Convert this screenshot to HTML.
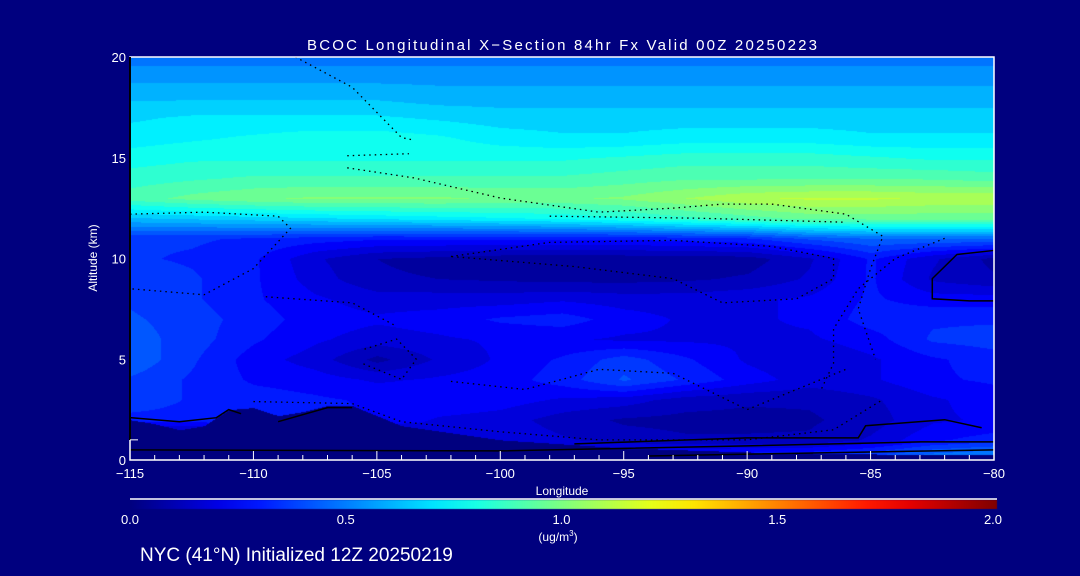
<!DOCTYPE html>
<html><head><meta charset="utf-8">
<style>
html,body{margin:0;padding:0;background:#00007f;}
#wrap{position:relative;width:1080px;height:576px;background:#00007f;overflow:hidden;font-family:"Liberation Sans",sans-serif;color:#fff;}
canvas{position:absolute;left:0;top:0;}
svg{position:absolute;left:0;top:0;}
</style></head>
<body>
<div id="wrap">
<canvas id="cv" width="1080" height="576"></canvas>
<svg id="sv" width="1080" height="576"></svg>
</div>
<script>
// ---- data ----
const lons = [-115,-112.5,-110,-107.5,-105,-102.5,-100,-97.5,-95,-92.5,-90,-87.5,-85,-82.5,-80];
const alts = [0,1,2,3,4,5,6,7,8,9,10,11,12,13,14,15,16,17,18,19,20];
const field = [
 [0,0,0,0,0,0,.30,.35,.35,.35,.38,.40,.45,.55,.60],
 [0,0,0,0,0,.20,.20,.16,.12,.10,.10,.10,.16,.26,.30],
 [.30,.30,.32,.30,.26,.20,.18,.12,.08,.07,.07,.08,.12,.20,.22],
 [.38,.32,.30,.28,.26,.26,.24,.20,.18,.12,.10,.10,.14,.20,.24],
 [.38,.32,.26,.24,.20,.22,.24,.30,.40,.32,.24,.18,.20,.26,.28],
 [.44,.34,.24,.18,.07,.16,.22,.28,.36,.28,.20,.16,.20,.26,.30],
 [.42,.36,.28,.22,.18,.20,.22,.22,.20,.20,.20,.20,.24,.34,.36],
 [.40,.36,.30,.24,.22,.24,.28,.30,.24,.20,.20,.22,.30,.32,.32],
 [.38,.34,.28,.22,.18,.18,.18,.20,.18,.18,.20,.22,.28,.24,.24],
 [.38,.34,.28,.18,.10,.09,.08,.07,.07,.08,.10,.16,.28,.14,.10],
 [.34,.32,.28,.16,.09,.07,.05,.05,.05,.05,.06,.14,.28,.16,.07],
 [.34,.34,.32,.30,.28,.28,.28,.28,.28,.30,.32,.40,.45,.45,.45],
 [.62,.64,.66,.68,.70,.72,.74,.76,.80,.85,.90,.95,.95,.95,.95],
 [.90,.95,.98,1.0,1.0,1.0,.98,.98,1.0,1.05,1.1,1.12,1.12,1.1,1.1],
 [.84,.86,.88,.88,.88,.88,.88,.88,.90,.92,.92,.92,.92,.92,.90],
 [.78,.80,.80,.80,.80,.80,.80,.80,.82,.84,.84,.84,.82,.80,.80],
 [.72,.74,.76,.78,.78,.76,.72,.70,.70,.72,.72,.72,.70,.70,.70],
 [.68,.70,.70,.70,.70,.68,.66,.66,.66,.66,.66,.66,.66,.66,.66],
 [.62,.62,.62,.62,.62,.60,.60,.60,.60,.60,.60,.60,.60,.60,.60],
 [.55,.55,.55,.55,.55,.55,.55,.55,.55,.55,.55,.55,.55,.55,.55],
 [.48,.48,.48,.48,.48,.48,.48,.48,.48,.48,.48,.48,.48,.48,.48]
];
const terrainLon = [-115,-114,-113,-112,-111,-110,-109,-108,-107,-106,-105,-104,-100,-95,-90,-85,-80];
const terrainAlt = [2.0,1.8,1.5,1.7,2.5,2.6,2.2,2.4,2.7,2.7,2.2,1.7,1.0,0.6,0.4,0.3,0.25];
const xTicks = [-115,-110,-105,-100,-95,-90,-85,-80];
const yTicks = [0,5,10,15,20];
const cbTicks = [0,0.5,1.0,1.5,2.0];
const contourDotted = [
 [[-115,12.2],[-112,12.3],[-109,12.1],[-108.5,11.5],[-110,9.5],[-112,8.2],[-115,8.5]],
 [[-108.3,20],[-106,18.5],[-104,16],[-103.6,15.9]],
 [[-106.2,15.1],[-103.7,15.2]],
 [[-106.2,14.5],[-103.5,14],[-100,13],[-96,12.3],[-93,12.5],[-91,12.7],[-89,12.7],[-86,12.2],[-84.5,11.1],[-85,9.5],[-85.5,7.5],[-84.8,5]],
 [[-98,12.1],[-92,12.0],[-86,11.8]],
 [[-102,10.1],[-98,10.8],[-93,10.9],[-89,10.6],[-86.5,10],[-86.5,9],[-88,8],[-91,7.8],[-93,9],[-97,9.6],[-102,10.1]],
 [[-82,11],[-84,10],[-85.5,8.5],[-86.5,6.5],[-86.5,4.8],[-87,3.5]],
 [[-109.5,8.1],[-106,7.8],[-104.3,6.7]],
 [[-105.5,5.5],[-104.2,6],[-103.4,5],[-104,4.0],[-105.6,4.8]],
 [[-110,2.9],[-106,2.8],[-104,1.9],[-100,1.4],[-96,1.0],[-90,1.0],[-86.5,1.5],[-84.5,3]],
 [[-102,3.9],[-99,3.5],[-96,4.5],[-93,4.3],[-90,2.5],[-88,3.5],[-86,4.5]]
];
const contourSolid = [
 [[-115,2.1],[-113,1.9],[-111.5,2.1],[-111,2.5],[-110.5,2.3]],
 [[-109,1.9],[-107,2.6],[-106,2.6]],
 [[-97,0.8],[-90,1.1],[-85.5,1.1],[-85.2,1.7],[-82,2.0],[-80.5,1.6]],
 [[-115,0.5],[-100,0.45],[-90,0.7],[-83,0.9],[-80,0.9]],
 [[-80,10.4],[-81.5,10.2],[-82.5,9],[-82.5,8],[-81,7.9],[-80,7.9]],
 [[-94,0.2],[-85,0.4],[-80,0.5]]
];
// ---- axes ----
const X0=130,X1=994,Y0=460,Y1=57;
const sx = l => X0 + (l+115)/35*(X1-X0);
const sy = a => Y0 - a/20*(Y0-Y1);
const invx = px => -115 + (px-X0)/(X1-X0)*35;
const invy = py => (Y0-py)/(Y0-Y1)*20;
function jet(v){
  const t=Math.max(0,Math.min(1,v/2));
  const c=x=>Math.max(0,Math.min(1,1.5-Math.abs(x)));
  return [c(4*t-3)*255,c(4*t-2)*255,c(4*t-1)*255];
}
function interp(lon,alt){
  let i=0; while(i<lons.length-2 && lon>lons[i+1]) i++;
  let j=0; while(j<alts.length-2 && alt>alts[j+1]) j++;
  const fx=Math.max(0,Math.min(1,(lon-lons[i])/(lons[i+1]-lons[i])));
  const fy=Math.max(0,Math.min(1,(alt-alts[j])/(alts[j+1]-alts[j])));
  const a=field[j][i],b=field[j][i+1],c=field[j+1][i],d=field[j+1][i+1];
  return (a*(1-fx)+b*fx)*(1-fy)+(c*(1-fx)+d*fx)*fy;
}
function terrain(lon){
  for(let k=0;k<terrainLon.length-1;k++){
    if(lon<=terrainLon[k+1]){const f=(lon-terrainLon[k])/(terrainLon[k+1]-terrainLon[k]);return terrainAlt[k]*(1-f)+terrainAlt[k+1]*f;}
  }
  return terrainAlt[terrainAlt.length-1];
}
const cv=document.getElementById('cv'),ctx=cv.getContext('2d');
ctx.fillStyle='#00007f';ctx.fillRect(0,0,1080,576);
const img=ctx.getImageData(X0,Y1,X1-X0,Y0-Y1);
for(let py=0;py<Y0-Y1;py++){
  for(let px=0;px<X1-X0;px++){
    const lon=invx(px+X0),alt=invy(py+Y1);
    let v = alt<terrain(lon)?0:interp(lon,alt);
    v=Math.round(v/0.06)*0.06;
    const col = v<=0?[0,0,127]:jet(v);
    const o=(py*(X1-X0)+px)*4;
    img.data[o]=col[0];img.data[o+1]=col[1];img.data[o+2]=col[2];img.data[o+3]=255;
  }
}
ctx.putImageData(img,X0,Y1);
// colorbar
const g=ctx.createLinearGradient(130,0,997,0);
for(let k=0;k<=20;k++){const c=jet(k/10);g.addColorStop(k/20,`rgb(${c[0]|0},${c[1]|0},${c[2]|0})`);}
ctx.fillStyle=g;ctx.fillRect(130,500,867,9);

// ---- svg overlay ----
const NS='http://www.w3.org/2000/svg',sv=document.getElementById('sv');
function mk(tag,attrs,parent){const e=document.createElementNS(NS,tag);for(const k in attrs)e.setAttribute(k,attrs[k]);(parent||sv).appendChild(e);return e;}
contourDotted.forEach(c=>{
  const e=mk('polyline',{points:c.map(p=>sx(p[0])+','+sy(p[1])).join(' '),fill:'none',stroke:'#000','stroke-width':1.3,'stroke-dasharray':'1.5 4'});
  
  
});
contourSolid.forEach(c=>{
  const e=mk('polyline',{points:c.map(p=>sx(p[0])+','+sy(p[1])).join(' '),fill:'none',stroke:'#000','stroke-width':1.5});
  
  
});
// frame
const fr=mk('rect',{x:X0,y:Y1,width:X1-X0,height:Y0-Y1,fill:'none',stroke:'#fff','stroke-width':1.5});


mk('line',{x1:X0,y1:Y1,x2:X0,y2:440,stroke:'#000','stroke-width':2});
for(let l=-115;l<=-80;l++){
  const major=(l%5===0);
  const t=mk('line',{x1:sx(l),x2:sx(l),y1:Y0,y2:Y0-(major?9:5),stroke:'#fff','stroke-width':1});
  
  
}
mk('line',{x1:X0,x2:X0+8,y1:sy(1),y2:sy(1),stroke:'#fff','stroke-width':1});
function txt(s,x,y,size,anchor,name){
  const e=mk('text',{x:x,y:y,'font-size':size,fill:'#fff','text-anchor':anchor||'middle','font-family':'Liberation Sans, sans-serif'});
  e.textContent=s;
  
  
  return e;
}
xTicks.forEach(l=>txt(String(l).replace('-','\u2212'),sx(l),478,13,'middle','x-tick-label'));
yTicks.forEach(a=>txt(String(a),126,sy(a)+5,13,'end','y-tick-label'));
cbTicks.forEach(v=>txt(v.toFixed(1),130+v/2*863,524,13,'middle','colorbar-tick-label'));
const tt=txt('BCOC Longitudinal X\u2212Section 84hr  Fx Valid 00Z 20250223',562,50,15,'middle','chart-title');
tt.setAttribute('textLength','510');
txt('Longitude',562,495,12,'middle','x-axis-title');
const yt=txt('Altitude (km)',0,0,12,'middle','y-axis-title');
yt.setAttribute('transform','translate(97,258) rotate(-90)');
const un=txt('(ug/m',558,541,12,'middle','colorbar-units');
const sup=mk('tspan',{'font-size':8,dy:-5},un);sup.textContent='3';
const cl=mk('tspan',{dy:5},un);cl.textContent=')';
txt('NYC (41\u00b0N) Initialized 12Z 20250219',140,561,19,'start','footer-init-label');
mk('line',{x1:130,x2:997,y1:499,y2:499,stroke:'#fff','stroke-width':1.5});
</script>
</body></html>
